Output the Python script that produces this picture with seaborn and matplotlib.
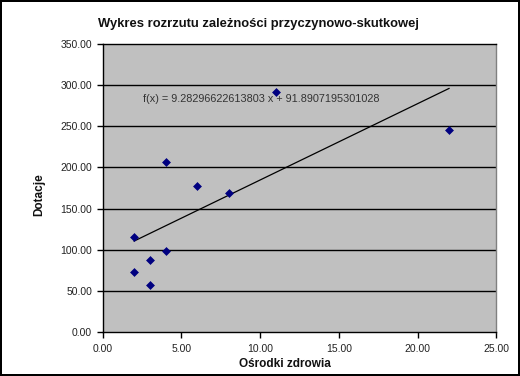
import matplotlib
matplotlib.use("Agg")
import matplotlib.pyplot as plt
import seaborn as sns
import numpy as np
import pandas as pd

osrodki = [2, 2, 3, 3, 4, 4, 6, 8, 11, 22]
dotacje = [116, 73, 87, 57, 207, 98, 177, 169, 292, 245]
slope = 9.28296622613803
intercept = 91.8907195301028
x_ticks = [0, 5, 10, 15, 20, 25]
y_ticks = [0, 50, 100, 150, 200, 250, 300, 350]

df = pd.DataFrame({"Ośrodki zdrowia": osrodki, "Dotacje": dotacje})

sns.set_style("white")
plt.rcParams['font.family'] = ['Liberation Sans', 'DejaVu Sans']

W, H = 520, 376
fig = plt.figure(figsize=(5.2, 3.76), dpi=100)
fig.patch.set_facecolor("white")
fig.patch.set_edgecolor("black")
fig.patch.set_linewidth(1.5)
ax = fig.add_axes([102.5/W, 1-332/H, 394/W, 288/H])
ax.set_facecolor("#c0c0c0")

for yv in y_ticks[1:-1]:
    ax.axhline(yv, color="black", lw=1.0, zorder=1)

xs = np.array([min(osrodki), max(osrodki)])
ax.plot(xs, slope*xs + intercept, color="black", lw=0.9, zorder=2)

sns.scatterplot(data=df, x="Ośrodki zdrowia", y="Dotacje", marker="D", s=16,
                color="#000080", edgecolor="#000080", linewidth=0.5, ax=ax, zorder=3)

ax.text(2.57, 283, f"f(x) = {slope} x + {intercept}", fontsize=7.8, color="#333333",
        va="center", ha="left")

ax.set_xlim(0, 25)
ax.set_ylim(0, 350)
ax.set_xticks(x_ticks)
ax.set_yticks(y_ticks)
ax.set_xticklabels([f"{v:.2f}" for v in x_ticks], fontsize=7.5, color="#222222")
ax.set_yticklabels([f"{v:.2f}" for v in y_ticks], fontsize=7.5, color="#222222")
ax.tick_params(axis="both", direction="out", length=4, width=1, color="black",
               bottom=True, left=True)
ax.tick_params(axis="x", pad=5)
ax.tick_params(axis="y", pad=3.5)
for s in ["left", "bottom", "top"]:
    ax.spines[s].set_color("black")
    ax.spines[s].set_linewidth(1)
ax.spines["right"].set_color("#808080")
ax.spines["right"].set_linewidth(1)

ax.set_xlabel("")
ax.set_ylabel("")
fig.text(285/W, 1-364/H, "Ośrodki zdrowia", fontsize=8.5, fontweight="bold",
         ha="center", va="center", color="#111111")
fig.text(39/W, 1-195/H, "Dotacje", fontsize=8.5, fontweight="bold", rotation=90,
         ha="center", va="center", color="#111111")
fig.text(258/W, 1-24/H, "Wykres rozrzutu zależności przyczynowo-skutkowej",
         fontsize=9.4, fontweight="bold", ha="center", va="center", color="#111111")

fig.savefig("out.png", dpi=100, facecolor=fig.get_facecolor(), edgecolor=fig.get_edgecolor())
